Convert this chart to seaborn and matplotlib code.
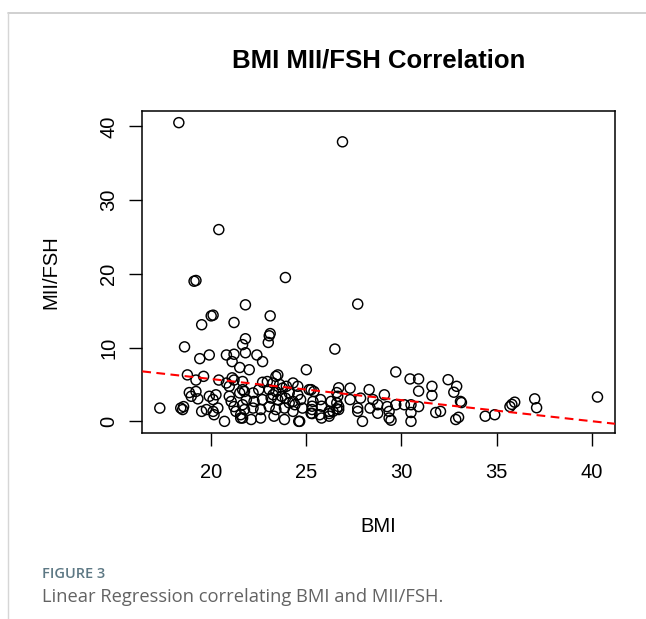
import numpy as np
import pandas as pd
import matplotlib
matplotlib.use("Agg")
import matplotlib.pyplot as plt
import seaborn as sns
from matplotlib.lines import Line2D

# ---- data ----
bmi = [18.3, 26.9, 20.4, 23.9, 19.2, 19.1, 21.8, 27.7, 20.0, 20.1,
       23.1, 19.5, 21.2, 23.1, 23.05, 23.0, 21.8, 21.65, 18.6, 26.5,
       19.4, 19.9, 20.8, 21.2, 21.8, 22.4, 22.7, 21.1, 21.5, 22.0,
       25.0, 29.7, 18.75, 19.2, 19.6, 20.4, 20.8, 21.1, 21.2, 21.65,
       22.7, 23.4, 23.5, 30.45, 30.9, 30.9, 31.6, 31.6, 32.45, 32.9,
       32.75, 33.1, 33.15, 32.05, 32.85, 33.0, 34.4, 34.9, 35.7, 35.95,
       35.8, 37.0, 37.1, 40.3, 31.8, 26.7, 27.3, 28.3, 26.65, 27.3,
       27.85, 28.5, 29.1, 28.35, 28.75, 29.25, 29.7, 30.15, 30.5, 30.9,
       27.7, 27.7, 28.75, 29.35, 29.35, 29.45, 30.5, 30.5, 27.95, 26.4,
       26.7, 26.7, 25.8, 26.2, 25.3, 25.3, 25.8, 25.25, 24.6, 26.6,
       26.6, 26.6, 17.3, 18.4, 18.5, 18.55, 19.5, 19.75, 20.1, 20.15,
       20.35, 20.7, 18.85, 19.2, 18.95, 19.3, 19.9, 20.1, 20.25, 20.95,
       21.05, 21.2, 21.3, 21.55, 20.95, 21.5, 21.65, 21.65, 21.55, 22.2,
       22.5, 21.75, 23.05, 23.4, 23.75, 24.1, 24.55, 25.15, 25.4, 21.85,
       22.25, 22.7, 23.15, 23.5, 23.9, 24.3, 24.7, 25.35, 25.75, 26.3,
       21.75, 22.2, 22.6, 23.05, 23.4, 23.85, 24.3, 24.8, 25.3, 26.2,
       21.65, 22.1, 22.6, 23.3, 23.85, 24.65, 25.25, 25.7, 26.2, 22.95,
       23.25, 23.6, 23.95, 24.3, 24.55, 23.25, 23.7, 24.1, 24.4]
mii_fsh = [40.5, 37.9, 26.0, 19.5, 19.1, 19.0, 15.8, 15.9, 14.3, 14.4,
           14.3, 13.1, 13.4, 11.9, 11.6, 10.7, 11.2, 10.4, 10.1, 9.8,
           8.5, 9.0, 9.0, 9.1, 9.3, 9.0, 8.1, 8.1, 7.3, 7.0,
           7.0, 6.7, 6.3, 5.6, 6.1, 5.6, 5.2, 5.9, 5.6, 5.4,
           5.3, 6.1, 6.3, 5.75, 5.75, 4.1, 4.75, 3.5, 5.65, 4.75,
           3.95, 2.7, 2.55, 1.35, 0.25, 0.55, 0.7, 0.9, 2.0, 2.6,
           2.3, 3.05, 1.85, 3.3, 1.2, 4.55, 4.5, 4.3, 3.4, 2.95,
           3.15, 2.95, 3.6, 1.8, 2.25, 2.0, 2.25, 2.25, 2.25, 2.0,
           1.8, 1.35, 1.1, 1.35, 0.45, 0.15, 1.2, 0.0, 0.0, 1.35,
           1.6, 2.0, 0.45, 1.05, 1.05, 2.05, 2.05, 4.3, 0.0, 3.9,
           2.5, 1.7, 1.8, 1.8, 1.6, 2.0, 1.35, 1.6, 1.35, 0.9,
           1.8, 0.0, 3.9, 4.05, 3.4, 3.05, 3.4, 2.95, 3.6, 3.4,
           2.7, 2.0, 1.35, 0.9, 4.75, 3.85, 4.3, 2.25, 0.45, 3.85,
           4.3, 4.05, 4.3, 4.05, 4.5, 3.85, 3.6, 4.3, 4.05, 2.95,
           2.7, 2.95, 3.15, 2.95, 3.15, 2.7, 2.95, 2.7, 2.95, 2.7,
           1.6, 1.8, 1.6, 2.0, 1.6, 1.8, 1.35, 1.8, 1.6, 1.35,
           0.45, 0.25, 0.45, 0.7, 0.25, 0.0, 1.1, 0.9, 0.7, 5.4,
           5.2, 5.0, 4.75, 5.2, 4.75, 3.6, 3.4, 2.5, 2.25]
x_ticks = [20, 25, 30, 35, 40]
y_ticks = [0, 10, 20, 30, 40]
fit_intercept = 11.46
fit_slope = -0.286

title_text = "BMI MII/FSH Correlation"
x_label = "BMI"
y_label = "MII/FSH"
fig_label = "FIGURE 3"
caption = "Linear Regression correlating BMI and MII/FSH."

# ---- style ----
sns.set_theme(style="white")
plt.rcParams["font.family"] = ["Liberation Sans", "DejaVu Sans"]

W, H = 646, 619
fig = plt.figure(figsize=(W / 100, H / 100), dpi=100)
fig.patch.set_facecolor("white")

ax_l, ax_r, ax_t, ax_b = 142.3, 615.0, 110.7, 433.3
ax = fig.add_axes([ax_l / W, 1 - ax_b / H, (ax_r - ax_l) / W, (ax_b - ax_t) / H])

df = pd.DataFrame({"BMI": bmi, "MII/FSH": mii_fsh})
sns.scatterplot(data=df, x="BMI", y="MII/FSH", ax=ax, s=52, marker="o",
                facecolor="none", edgecolor="black", linewidth=1.05, zorder=3)
for c in ax.collections:
    c.set_facecolor("none")
    c.set_edgecolor("black")

# R style axis limits: data range extended by 4%
xmin, xmax = min(bmi), max(bmi)
ymin, ymax = min(mii_fsh), max(mii_fsh)
px, py = 0.04 * (xmax - xmin), 0.04 * (ymax - ymin)
ax.set_xlim(xmin - px, xmax + px)
ax.set_ylim(ymin - py, ymax + py)

ax.axline((0, fit_intercept), slope=fit_slope, color="#ff0000", lw=1.5,
          dashes=(4.2, 2.6), zorder=4)

ax.set_xticks(x_ticks)
ax.set_yticks(y_ticks)
ax.tick_params(axis="both", which="major", direction="out", length=9.4,
               width=1.0, color="black", labelsize=14.5, labelcolor="black",
               bottom=True, left=True)
ax.tick_params(axis="x", pad=12)
ax.tick_params(axis="y", pad=8)
for lab in ax.get_yticklabels():
    lab.set_rotation(90)
    lab.set_va("center")

for sp in ax.spines.values():
    sp.set_visible(True)
    sp.set_color("black")
    sp.set_linewidth(1.1)

ax.set_xlabel(x_label, fontsize=14.5, color="black")
ax.set_ylabel(y_label, fontsize=14.5, color="black")
ax.xaxis.set_label_coords(0.5, (ax_b - 527) / (ax_b - ax_t))
ax.xaxis.label.set_va("center")
ax.yaxis.set_label_coords((51 - ax_l) / (ax_r - ax_l), 0.5)
ax.yaxis.label.set_va("center")

fig.text(379 / W, 1 - 60 / H, title_text, ha="center", va="center",
         fontsize=18.5, fontweight="bold", color="black")

# page frame lines
fig.add_artist(Line2D([8 / W, 1.0], [1 - 13 / H, 1 - 13 / H],
                      transform=fig.transFigure, color="#c8c8c8", lw=1.2))
fig.add_artist(Line2D([8 / W, 8 / W], [0.0, 1 - 13 / H],
                      transform=fig.transFigure, color="#d6d6d6", lw=1.0))

fig.text(42 / W, 1 - 574 / H, fig_label, ha="left", va="center",
         fontsize=10.5, color="#5d7884", family=["Open Sans", "DejaVu Sans"],
         fontweight="semibold")
fig.text(42 / W, 1 - 597 / H, caption, ha="left", va="center",
         fontsize=13.2, color="#636363", family=["Open Sans", "DejaVu Sans"])

fig.savefig("out.png", dpi=100, facecolor="white")
